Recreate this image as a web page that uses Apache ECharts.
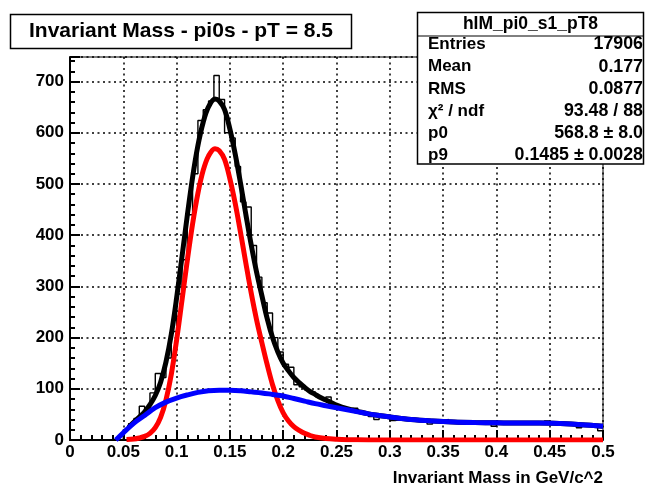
<!DOCTYPE html>
<html>
<head>
<meta charset="utf-8">
<script src="https://cdn.jsdelivr.net/npm/echarts@6/dist/echarts.min.js"></script>
<style>
html,body{margin:0;padding:0;background:#fff;}
#chart{width:645px;height:484px;}
</style>
</head>
<body>
<div id="chart"></div>
<script>
// ---------- data ----------
const binStart = 0.05;
const binWidth = 0.005;
const binValues = [20,32,42,66,58,92,130,122,160,212,
  285,352,440,520,624,645,662,712,665,600,
  590,534,465,455,380,318,268,248,200,172,
  148,142,108,104,98,94,85,80,84,70,
  66,60,56,62,54,50,46,40,46,44,
  38,40,42,39,40,37,36,31,35,37,
  40,36,35,34,33,35,34,36,34,27,
  33,35,33,34,32,33,35,33,32,37,
  33,32,31,32,30,24,29,28,27,18];

const totalX = [0.055,0.06,0.065,0.07,0.075,0.08,0.085,0.09,0.095,0.1,0.105,0.11,0.115,0.12,0.125,0.13,0.136,0.14,0.145,0.15,0.155,0.16,0.165,0.17,0.175,0.18,0.185,0.19,0.195,0.2,0.205,0.21,0.215,0.22,0.225,0.23,0.235,0.24,0.245,0.25,0.26,0.27,0.28,0.29,0.3,0.32,0.34,0.36,0.38,0.4,0.42,0.44,0.46,0.48,0.5];
const totalY = [25,35,45,55,69,87,113,152,206,277,357,438,513,575,621,651,666,662,645,607,558,501,440,381,328,282,237,200,172,150,135,122,112,103,95,89,83,78,73,68,61,56,51,48,45,40,37,35,34,33.5,33,33,32,30,27];

const signalX = [0.053,0.06,0.065,0.07,0.075,0.08,0.085,0.09,0.095,0.1,0.105,0.11,0.115,0.12,0.125,0.13,0.136,0.14,0.145,0.15,0.155,0.16,0.165,0.17,0.175,0.18,0.185,0.19,0.195,0.2,0.205,0.21,0.215,0.22,0.225,0.23,0.24,0.25,0.26,0.28,0.3,0.35,0.4,0.45,0.5];
const signalY = [1,2,4,7,13,24,44,78,128,195,272,350,422,482,527,555,569,565,548,510,462,405,345,287,235,190,147,108,77,53,37,26,19,13,9,6,3,1.5,0.7,0.2,0,0,0,0,0];

const bgX = [0.043,0.05,0.06,0.07,0.08,0.09,0.1,0.11,0.12,0.13,0.14,0.15,0.16,0.17,0.18,0.19,0.2,0.21,0.22,0.23,0.24,0.25,0.26,0.27,0.28,0.29,0.3,0.32,0.34,0.36,0.38,0.4,0.42,0.44,0.46,0.48,0.5];
const bgY = [0,14,33,48,63,74,82,88,93,96,97,97,96,94,92,89,86,81,76,71,67,63,59,55,51,48,45,40,37,35,34,33.5,33,33,32,30,27];

const titleText = 'Invariant Mass - pi0s - pT = 8.5';
const xTitle = 'Invariant Mass in GeV/c^2';
const statsName = 'hIM_pi0_s1_pT8';
const statsLabels = ['Entries','Mean','RMS','\u03c7\u00b2 / ndf','p0','p9'];
const statsValues = ['17906','0.177','0.0877','93.48 / 88','568.8 \u00b1 8.0','0.1485 \u00b1 0.0028'];

// ---------- build ----------
const histData = [[binStart, 0]];
binValues.forEach((v, i) => histData.push([binStart + i * binWidth, v]));
histData.push([binStart + binValues.length * binWidth, binValues[binValues.length - 1]]);
const zip = (xs, ys) => xs.map((x, i) => [x, ys[i]]);

const FONT = '"Liberation Sans", Arial, Helvetica, sans-serif';
const chart = echarts.init(document.getElementById('chart'), null, {renderer: 'canvas'});

const statsGraphic = [];
const bx = 417.5, by = 12.5, bw = 226, bh = 151.5;
statsGraphic.push({type: 'rect', z: 100, shape: {x: bx, y: by, width: bw, height: bh},
  style: {fill: '#fff', stroke: '#000', lineWidth: 1.5}});
statsGraphic.push({type: 'line', z: 101, shape: {x1: bx, y1: 36, x2: bx + bw, y2: 36},
  style: {stroke: '#000', lineWidth: 1}});
statsGraphic.push({type: 'text', z: 102, style: {text: statsName, x: bx + bw / 2, y: 24.5,
  textAlign: 'center', textVerticalAlign: 'middle', font: 'bold 17.5px ' + FONT, fill: '#000'}});
statsLabels.forEach((lab, i) => {
  const yy = 44.5 + i * 22.2;
  statsGraphic.push({type: 'text', z: 102, style: {text: lab, x: 428, y: yy,
    textAlign: 'left', textVerticalAlign: 'middle', font: 'bold 17px ' + FONT, fill: '#000'}});
  statsGraphic.push({type: 'text', z: 102, style: {text: statsValues[i], x: 643, y: yy,
    textAlign: 'right', textVerticalAlign: 'middle', font: 'bold 17.8px ' + FONT, fill: '#000'}});
});

const option = {
  animation: false,
  backgroundColor: '#fff',
  grid: {left: 70, right: 42, top: 57, bottom: 44, show: true, borderColor: '#000', borderWidth: 1, backgroundColor: 'transparent'},
  xAxis: {
    type: 'value', min: 0, max: 0.5, interval: 0.05,
    axisLine: {show: true, onZero: false, lineStyle: {color: '#000', width: 2}},
    axisTick: {show: true, inside: true, length: 10, lineStyle: {color: '#000', width: 2}},
    minorTick: {show: true, splitNumber: 5, length: 5, lineStyle: {color: '#000', width: 2}},
    axisLabel: {color: '#000', fontFamily: FONT, fontWeight: 'bold', fontSize: 17, margin: 4,
      formatter: v => (Math.round(v * 100) / 100).toString()},
    splitLine: {show: true, lineStyle: {color: '#000', width: 1.5, type: [2, 3.5]}}
  },
  yAxis: {
    type: 'value', min: 0, max: 748, interval: 100,
    axisLine: {show: true, onZero: false, lineStyle: {color: '#000', width: 2}},
    axisTick: {show: true, inside: true, length: 10, lineStyle: {color: '#000', width: 2}},
    minorTick: {show: true, splitNumber: 5, length: 5, lineStyle: {color: '#000', width: 2}},
    axisLabel: {color: '#000', fontFamily: FONT, fontWeight: 'bold', fontSize: 17, margin: 6,
      showMaxLabel: false, formatter: v => (v % 100 === 0 ? String(v) : '')},
    splitLine: {show: true, lineStyle: {color: '#000', width: 1.5, type: [2, 3.5]}}
  },
  series: [
    {type: 'line', name: 'hist', data: histData, step: 'end', symbol: 'none', z: 2,
      lineStyle: {color: '#000', width: 1.4}},
    {type: 'line', name: 'total', data: zip(totalX, totalY), smooth: 0.35, symbol: 'none', z: 3,
      lineStyle: {color: '#000', width: 5}},
    {type: 'line', name: 'signal', data: zip(signalX, signalY), smooth: 0.35, symbol: 'none', z: 4,
      lineStyle: {color: '#ff0000', width: 5}},
    {type: 'line', name: 'background', data: zip(bgX, bgY), smooth: 0.35, symbol: 'none', z: 5,
      lineStyle: {color: '#0000ff', width: 5}}
  ],
  graphic: [
    {type: 'rect', z: 100, shape: {x: 10.5, y: 14.5, width: 341, height: 34},
      style: {fill: '#fff', stroke: '#000', lineWidth: 1.5}},
    {type: 'text', z: 101, style: {text: titleText, x: 181, y: 31.5, textAlign: 'center',
      textVerticalAlign: 'middle', font: 'bold 21px ' + FONT, fill: '#000'}},
    {type: 'text', z: 101, style: {text: xTitle, x: 603, y: 478, textAlign: 'right',
      textVerticalAlign: 'middle', font: 'bold 17px ' + FONT, fill: '#000'}}
  ].concat(statsGraphic)
};
chart.setOption(option);
</script>
</body>
</html>
